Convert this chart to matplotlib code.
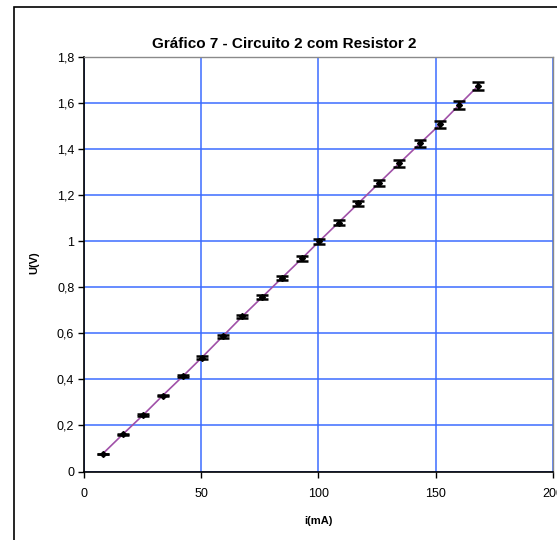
import matplotlib
matplotlib.use("Agg")
import matplotlib.pyplot as plt
from matplotlib.patches import Rectangle

plt.rcParams['font.family'] = ['Liberation Sans', 'DejaVu Sans']

# Data
current_mA = [8.0, 16.5, 25.3, 33.6, 42.4, 50.2, 59.2, 67.6, 76.0, 84.6,
              93.0, 100.4, 108.6, 117.0, 125.9, 134.5, 143.4, 151.9, 160.0, 168.2]
voltage_V = [0.077, 0.161, 0.246, 0.330, 0.416, 0.494, 0.587, 0.674, 0.757, 0.842,
             0.925, 1.000, 1.081, 1.164, 1.253, 1.338, 1.425, 1.507, 1.591, 1.675]
voltage_err = [0.001, 0.002, 0.003, 0.004, 0.005, 0.006, 0.006, 0.007, 0.008, 0.009,
               0.009, 0.010, 0.011, 0.012, 0.013, 0.014, 0.014, 0.015, 0.016, 0.017]
x_ticks = [0, 50, 100, 150, 200]
x_tick_labels = ['0', '50', '100', '150', '200']
y_ticks = [0, 0.2, 0.4, 0.6, 0.8, 1.0, 1.2, 1.4, 1.6, 1.8]
y_tick_labels = ['0', '0,2', '0,4', '0,6', '0,8', '1', '1,2', '1,4', '1,6', '1,8']

W, H = 557, 540
fig = plt.figure(figsize=(W / 100, H / 100), dpi=100)
fig.patch.set_facecolor('white')

# outer chart frame
fig.patches.append(Rectangle((14 / W, -0.05), 1.2, (540 - 7) / H + 0.05,
                             transform=fig.transFigure, fill=False,
                             edgecolor='black', linewidth=1.2))

ax = fig.add_axes([84 / W, (H - 471.5) / H, (552.7 - 84) / W, (471.5 - 57) / H])
ax.set_xlim(0, 200)
ax.set_ylim(0, 1.8)
ax.set_xticks(x_ticks)
ax.set_xticklabels(x_tick_labels)
ax.set_yticks(y_ticks)
ax.set_yticklabels(y_tick_labels)

ax.grid(True, color='#3c6cff', linewidth=1.1)
ax.set_axisbelow(True)

for s in ['top', 'right']:
    ax.spines[s].set_color('#8a8a8a')
    ax.spines[s].set_linewidth(1.0)
for s in ['left', 'bottom']:
    ax.spines[s].set_color('black')
    ax.spines[s].set_linewidth(1.2)

ax.tick_params(direction='out', length=4, width=1, labelsize=9,
               colors='black')
ax.tick_params(axis='x', pad=8)
ax.tick_params(axis='y', pad=3)

ax.plot(current_mA, voltage_V, color='#a050a8', linewidth=1.2, zorder=2)
ax.errorbar(current_mA, voltage_V, yerr=voltage_err, fmt='D', color='black',
            markersize=3, ecolor='black', elinewidth=1.3, capsize=4.5,
            capthick=1.8, zorder=3)

fig.text(284 / W, 1 - 43.5 / H, 'Gráfico 7 - Circuito 2 com Resistor 2',
         ha='center', va='center', fontsize=11, fontweight='bold')
fig.text(318 / W, 1 - 521 / H, 'i(mA)', ha='center', va='center',
         fontsize=8, fontweight='bold')
fig.text(34 / W, 1 - 263 / H, 'U(V)', ha='center', va='center',
         fontsize=8, fontweight='bold', rotation=90)

fig.savefig('out.png', dpi=100)
